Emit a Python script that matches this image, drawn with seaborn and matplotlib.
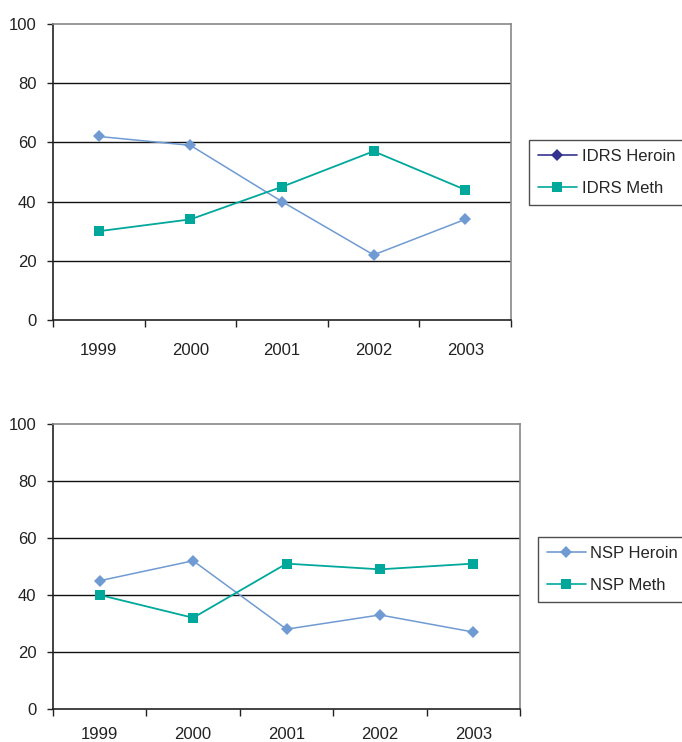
import matplotlib
matplotlib.use("Agg")
import matplotlib.pyplot as plt
from matplotlib.lines import Line2D
import seaborn as sns
import pandas as pd

years = ["1999", "2000", "2001", "2002", "2003"]
idrs_heroin = [62, 59, 40, 22, 34]
idrs_meth = [30, 34, 45, 57, 44]
nsp_heroin = [45, 52, 28, 33, 27]
nsp_meth = [40, 32, 51, 49, 51]
y_ticks = [0, 20, 40, 60, 80, 100]

HEROIN = "#6f9bd2"
METH = "#00a89c"
NAVY = "#33338f"

sns.set_theme(style="white")
plt.rcParams["font.family"] = ["Liberation Sans", "DejaVu Sans"]

fig = plt.figure(figsize=(6.82, 7.42), dpi=100)
ax_top = fig.add_axes([0.0777, 0.5687, 0.6716, 0.3990])
ax_bot = fig.add_axes([0.0777, 0.0445, 0.6848, 0.3841])


def draw(ax, heroin, meth, names, legend_heroin_color, legend_box, xpad):
    df = pd.DataFrame({
        "pos": list(range(len(years))) * 2,
        "value": heroin + meth,
        "series": [names[0]] * len(years) + [names[1]] * len(years),
    })
    sns.lineplot(data=df[df.series == names[0]], x="pos", y="value", ax=ax,
                 color=HEROIN, marker="D", markersize=6, linewidth=1.1,
                 markeredgewidth=0, legend=False, zorder=3)
    sns.lineplot(data=df[df.series == names[1]], x="pos", y="value", ax=ax,
                 color=METH, marker="s", markersize=7.5, linewidth=1.3,
                 markeredgewidth=0, legend=False, zorder=3)
    ax.set_xlim(-0.5, len(years) - 0.5)
    ax.set_ylim(0, 100)
    ax.set_xlabel("")
    ax.set_ylabel("")
    ax.set_yticks(y_ticks)
    ax.set_yticklabels([str(t) for t in y_ticks], fontsize=12, color="#222222")
    ax.set_xticks(range(len(years)))
    ax.set_xticklabels(years, fontsize=12, color="#222222")
    ax.set_xticks([i - 0.5 for i in range(len(years) + 1)], minor=True)
    ax.tick_params(axis="x", which="major", length=0, pad=xpad)
    ax.tick_params(axis="x", which="minor", direction="out", length=5,
                   width=1.0, color="#222222", bottom=True)
    ax.tick_params(axis="y", which="major", direction="out", length=4,
                   width=1.0, color="#222222", left=True, pad=8)
    for t in y_ticks[1:-1]:
        ax.axhline(t, color="#111111", linewidth=1.0, zorder=1)
    for side in ("left", "bottom"):
        ax.spines[side].set_color("#222222")
        ax.spines[side].set_linewidth(1.2)
    for side in ("top", "right"):
        ax.spines[side].set_color("#888888")
        ax.spines[side].set_linewidth(1.2)
    ax.set_facecolor("white")

    handles = [
        Line2D([0], [0], color=legend_heroin_color, marker="D", markersize=6,
               markeredgewidth=0, linewidth=1.2),
        Line2D([0], [0], color=METH, marker="s", markersize=7.5,
               markeredgewidth=0, linewidth=1.2),
    ]
    leg = fig.legend(handles, names, loc="upper left",
                     bbox_to_anchor=legend_box, fontsize=12,
                     frameon=True, fancybox=False, handlelength=2.3,
                     handletextpad=0.3, labelspacing=1.0,
                     borderpad=0.55, borderaxespad=0)
    leg.get_frame().set_edgecolor("#222222")
    leg.get_frame().set_linewidth(1.0)


draw(ax_top, idrs_heroin, idrs_meth, ["IDRS Heroin", "IDRS Meth"], NAVY,
     (529 / 682, 1 - 140 / 742), 16.5)
draw(ax_bot, nsp_heroin, nsp_meth, ["NSP Heroin", "NSP Meth"], HEROIN,
     (538 / 682, 1 - 537 / 742), 13)

fig.savefig("out.png", dpi=100, facecolor="white")
